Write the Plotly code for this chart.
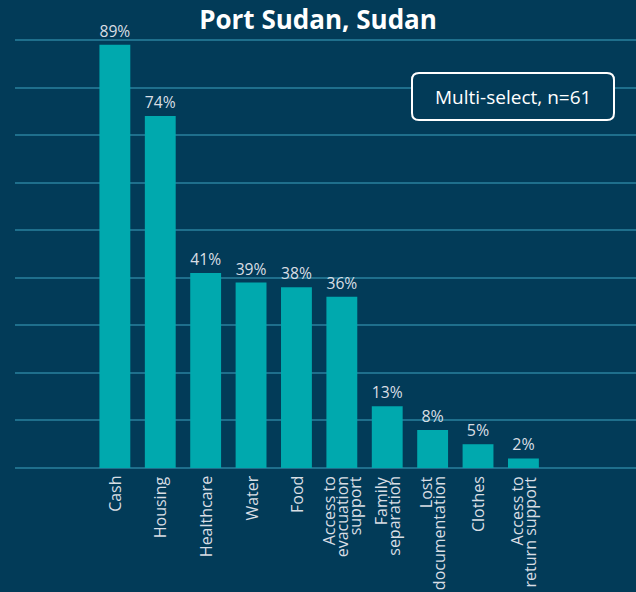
import plotly.graph_objects as go

categories = ["Cash", "Housing", "Healthcare", "Water", "Food",
              "Access to<br>evacuation<br>support", "Family<br>separation",
              "Lost<br>documentation", "Clothes", "Access to<br>return support"]
values = [89, 74, 41, 39, 38, 36, 13, 8, 5, 2]
labels = [f"{v}%" for v in values]

BG = "#023b58"
BAR = "#00a9ae"
GRID = "#1f6f8c"
TXT = "#d9dee4"
FONT = "Open Sans"

L, R, T, B = 15, 0, 36, 124
W, H = 636, 592
pw, ph = W - L - R, H - T - B

xs = list(range(len(categories)))
fig = go.Figure(go.Bar(
    x=xs, y=values, text=labels,
    textposition="outside", cliponaxis=False,
    marker=dict(color=BAR, line=dict(width=0)),
    width=0.68,
    textfont=dict(family=FONT, size=16, color=TXT),
))

# rounded box for annotation
x0, x1, y0, y1 = 412, 614, 73, 120
r = 7
def px(x):
    return (x - L) / pw
def py(y):
    return (H - B - y) / ph
path = (f"M {px(x0+r)},{py(y0)} L {px(x1-r)},{py(y0)} "
        f"Q {px(x1)},{py(y0)} {px(x1)},{py(y0+r)} L {px(x1)},{py(y1-r)} "
        f"Q {px(x1)},{py(y1)} {px(x1-r)},{py(y1)} L {px(x0+r)},{py(y1)} "
        f"Q {px(x0)},{py(y1)} {px(x0)},{py(y1-r)} L {px(x0)},{py(y0+r)} "
        f"Q {px(x0)},{py(y0)} {px(x0+r)},{py(y0)} Z")

annotations = [dict(text="Multi-select, n=61", xref="paper", yref="paper",
                    x=px((x0 + x1) / 2), y=py((y0 + y1) / 2),
                    xanchor="center", yanchor="middle", showarrow=False,
                    font=dict(family=FONT, size=19, color="white"))]
LINE = 13
for xi, cat in zip(xs, categories):
    lines = cat.split("<br>")
    n = len(lines)
    for k, ln in enumerate(lines):
        annotations.append(dict(text=ln, x=xi, y=0, xref="x", yref="y",
                                textangle=-90, xanchor="center", yanchor="top",
                                xshift=(k - (n - 1) / 2) * LINE, yshift=-7,
                                showarrow=False, borderpad=0,
                                font=dict(family=FONT, size=16, color=TXT)))

fig.update_layout(
    width=W, height=H,
    paper_bgcolor=BG, plot_bgcolor=BG,
    margin=dict(l=L, r=R, t=T, b=B),
    showlegend=False,
    title=dict(text="<b>Port Sudan, Sudan</b>", x=0.5, xanchor="center",
               y=1 - 20 / H, yanchor="middle",
               font=dict(family=FONT, size=26, color="white")),
    xaxis=dict(range=[-2.2, 11.48], showticklabels=False,
               showgrid=False, zeroline=False, showline=False, ticks=""),
    yaxis=dict(range=[0, 90.85], dtick=10, showticklabels=False,
               showgrid=True, gridcolor=GRID, gridwidth=1.5,
               zeroline=True, zerolinecolor=GRID, zerolinewidth=1.5,
               showline=False, fixedrange=True),
    shapes=[dict(type="path", xref="paper", yref="paper", path=path,
                 line=dict(color="white", width=2), fillcolor=BG)],
    annotations=annotations,
)

fig.write_html("out.html", config={"displayModeBar": False})
with open("out.html", encoding="utf-8") as f:
    html = f.read()
html = html.replace("<head>", "<head><style>html,body{margin:0;padding:0;background:#023b58;}</style>", 1)
with open("out.html", "w", encoding="utf-8") as f:
    f.write(html)
